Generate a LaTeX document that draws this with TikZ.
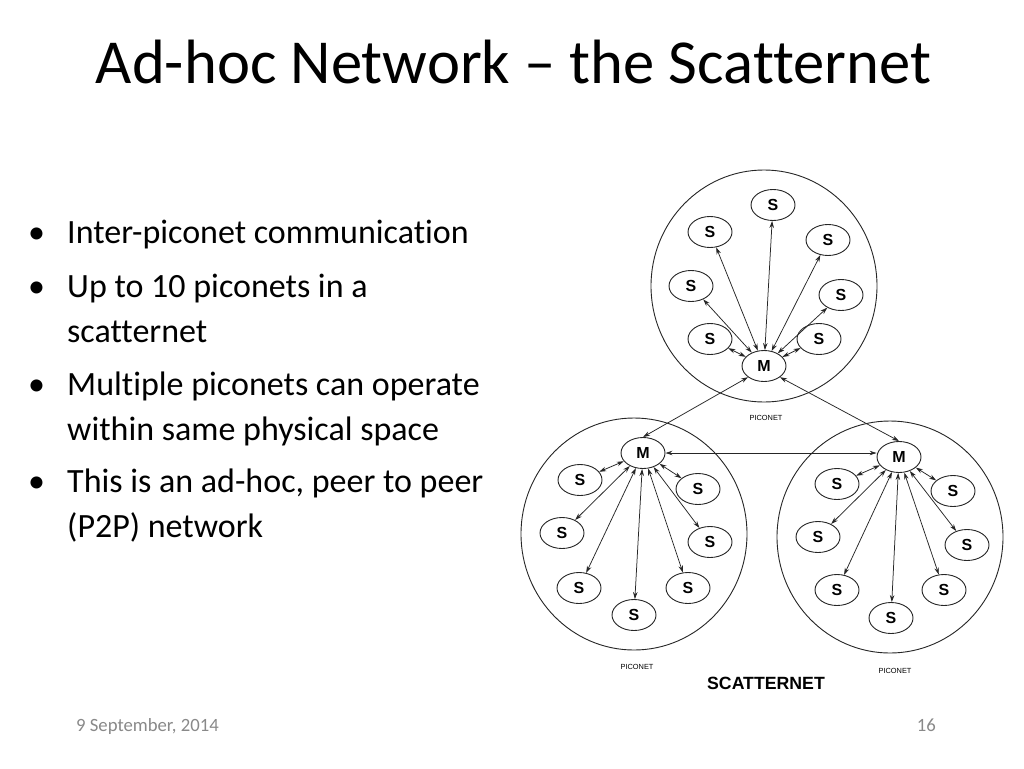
\documentclass[tikz,border=0pt]{standalone}
\usepackage{fontspec}
\setmainfont{Carlito}[Ligatures=NoCommon]
\newfontfamily\arialf{Liberation Sans}
\usetikzlibrary{shapes.geometric,arrows.meta}
\definecolor{footgray}{RGB}{137,137,137}
\begin{document}
\begin{tikzpicture}[x=1pt,y=-1pt,
  netcircle/.style={ellipse, draw=black!85, line width=0.9pt, minimum width=226pt, minimum height=232pt, inner sep=0pt},
  snode/.style={ellipse, draw=black!85, line width=0.9pt, fill=white, minimum width=44pt, minimum height=31pt, inner sep=0pt, font=\arialf\bfseries\fontsize{16}{16}\selectfont},
  duplex/.style={{Stealth[length=7pt,width=4.5pt]}-{Stealth[length=7pt,width=4.5pt]}, line width=0.75pt, draw=black!85},
  bodytext/.style={anchor=base west, inner sep=0pt, font=\fontsize{34}{34}\selectfont},
  smalllabel/.style={inner sep=0pt, font=\arialf\fontsize{7.4}{8}\selectfont},
  foot/.style={inner sep=0pt, text=footgray, font=\fontsize{18.7}{19}\selectfont}
]
\useasboundingbox[fill=white] (0,0) rectangle (1024,768);

% title
\node[anchor=base, inner sep=0pt, font=\fontsize{62.6}{70}\selectfont] (title) at (513.5,83) {Ad-hoc Network -- the Scatternet};

% bullets
\node[bodytext] (b1) at (28,243) {•};
\node[bodytext] (t1) at (67,243) {Inter-piconet communication};
\node[bodytext] (b2) at (28,297) {•};
\node[bodytext] (t2) at (67,297) {Up to 10 piconets in a};
\node[bodytext] (t2b) at (67,342) {scatternet};
\node[bodytext] (b3) at (28,395) {•};
\node[bodytext] (t3) at (67,395) {Multiple piconets can operate};
\node[bodytext] (t3b) at (67,440) {within same physical space};
\node[bodytext] (b4) at (28,492) {•};
\node[bodytext] (t4) at (67,492) {This is an ad-hoc, peer to peer};
\node[bodytext] (t4b) at (67,537) {(P2P) network};

% footer
\node[foot, anchor=base west] (date) at (76,731) {9 September, 2014};
\node[foot, anchor=base east] (page) at (936,731) {16};

% piconet circles
\node[netcircle] (tC) at (764,286) {};
\node[netcircle] (lC) at (634,534) {};
\node[netcircle] (rC) at (890,537) {};

% top piconet
\node[snode] (tM) at (764,366) {M};
\node[snode] (tS1) at (773,205) {S};
\node[snode] (tS2) at (710,232) {S};
\node[snode] (tS3) at (828,240) {S};
\node[snode] (tS4) at (691,286) {S};
\node[snode] (tS5) at (841,295) {S};
\node[snode] (tS6) at (710,339) {S};
\node[snode] (tS7) at (819,339) {S};
\foreach \i in {1,...,7} {\draw[duplex] (tM) -- (tS\i);}

% left piconet
\node[snode] (lM) at (643,453) {M};
\node[snode] (lS1) at (580,480) {S};
\node[snode] (lS2) at (698,489) {S};
\node[snode] (lS3) at (562,533) {S};
\node[snode] (lS4) at (710,542) {S};
\node[snode] (lS5) at (579,588) {S};
\node[snode] (lS6) at (688,588) {S};
\node[snode] (lS7) at (634,615) {S};
\foreach \i in {1,...,7} {\draw[duplex] (lM) -- (lS\i);}

% right piconet
\node[snode] (rM) at (899,457) {M};
\node[snode] (rS1) at (837,484) {S};
\node[snode] (rS2) at (953,491) {S};
\node[snode] (rS3) at (818,537) {S};
\node[snode] (rS4) at (967,545) {S};
\node[snode] (rS5) at (837,590) {S};
\node[snode] (rS6) at (944,590) {S};
\node[snode] (rS7) at (891,618) {S};
\foreach \i in {1,...,7} {\draw[duplex] (rM) -- (rS\i);}

% inter-piconet links
\draw[duplex] (tM.215) -- (lM.north);
\draw[duplex] (tM.325) -- (rM.north);
\draw[duplex] (lM.east) -- (rM.west |- lM.east);

% labels
\node[smalllabel] (tL) at (766,418) {PICONET};
\node[smalllabel] (lL) at (637,667) {PICONET};
\node[smalllabel] (rL) at (895,671) {PICONET};
\node[inner sep=0pt, font=\arialf\bfseries\fontsize{17.7}{18}\selectfont] (scat) at (766,683) {SCATTERNET};
\end{tikzpicture}
\end{document}
